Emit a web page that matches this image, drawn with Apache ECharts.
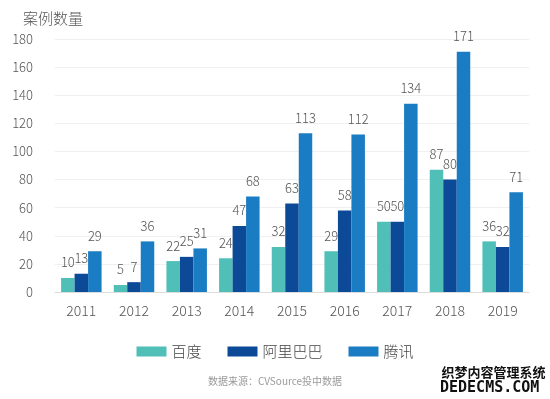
<!DOCTYPE html>
<html><head><meta charset="utf-8">
<script src="https://cdn.jsdelivr.net/npm/echarts@6/dist/echarts.min.js"></script>
<style>html,body{margin:0;padding:0;background:#fff}#c{width:550px;height:399px}</style>
</head><body><div id="c"></div>
<script>
const years = ['2011','2012','2013','2014','2015','2016','2017','2018','2019'];
const baidu = [10,5,22,24,32,29,50,87,36];
const alibaba = [13,7,25,47,63,58,50,80,32];
const tencent = [29,36,31,68,113,112,134,171,71];
const seriesNames = ['百度','阿里巴巴','腾讯'];
const colors = ['#4fbfb8','#0c4a98','#1a7cc2'];
const font = '"Noto Sans CJK SC","Noto Sans",sans-serif';
const chart = echarts.init(document.getElementById('c'));
const lbl = {show:true, position:'top', distance:9, color:'#555', fontSize:13, fontWeight:300, fontFamily:font};
const mk = (name, data, i) => ({name, type:'bar', data, barWidth:13.5, barGap:'0%', itemStyle:{color:colors[i]}, label:lbl});
chart.setOption({
  animation:false,
  textStyle:{fontFamily:font},
  title:{text:'案例数量', left:18, top:6, textStyle:{fontSize:15, fontWeight:300, color:'#555', fontFamily:font}},
  legend:{bottom:35, left:'center', itemWidth:30, itemHeight:10, itemGap:26, icon:'rect',
    textStyle:{fontSize:15, color:'#444', fontWeight:300, fontFamily:font}, data:seriesNames},
  grid:{left:55, right:21, top:39, bottom:107, containLabel:false},
  xAxis:{type:'category', data:years, axisTick:{show:false},
    axisLine:{lineStyle:{color:'#ddd'}},
    axisLabel:{color:'#555', fontSize:14, fontWeight:300, margin:12, fontFamily:font}},
  yAxis:{type:'value', min:0, max:180, interval:20,
    axisLabel:{color:'#555', fontSize:13, fontWeight:300, margin:22, fontFamily:font},
    splitLine:{lineStyle:{color:'#f0f0f0'}}},
  series:[mk(seriesNames[0], baidu, 0), mk(seriesNames[1], alibaba, 1), mk(seriesNames[2], tencent, 2)],
  graphic:[
    {type:'text', left:'center', top:376, style:{text:'数据来源：CVSource投中数据', fill:'#999', fontSize:10, fontFamily:font}},
    {type:'text', left:441, top:365, style:{text:'织梦内容管理系统', fill:'#111', stroke:'#fff', lineWidth:1, fontSize:13, fontWeight:'bold', fontFamily:font}},
    {type:'text', left:440, top:381, style:{text:'DEDECMS.COM', fill:'#111', fontSize:15, fontWeight:'bold', fontFamily:'"DejaVu Sans Mono",monospace'}}
  ]
});
</script></body></html>
